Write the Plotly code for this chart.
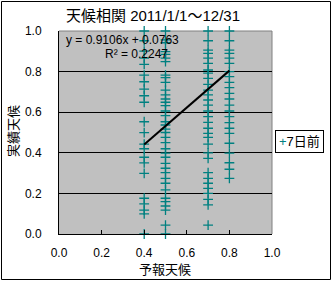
import plotly.graph_objects as go

# ---- data ----
x_col04 = 0.4
y_col04 = [1.0, 0.952, 0.901, 0.866, 0.836, 0.783, 0.750, 0.714, 0.681, 0.649,
           0.553, 0.499, 0.443, 0.420, 0.378, 0.350, 0.299, 0.176, 0.148, 0.118,
           0.099, 0.0]
x_col05 = 0.5
y_col05 = [1.0, 0.956, 0.942, 0.898, 0.885, 0.866, 0.849, 0.783, 0.770, 0.747,
           0.709, 0.685, 0.665, 0.649, 0.632, 0.606, 0.583, 0.553, 0.537, 0.517,
           0.500, 0.476, 0.450, 0.420, 0.398, 0.378, 0.348, 0.324, 0.302, 0.274,
           0.250, 0.217, 0.176, 0.159, 0.138, 0.118, 0.044, 0.0]
x_col07 = 0.7
y_col07 = [1.0, 0.952, 0.906, 0.890, 0.866, 0.841, 0.808, 0.792, 0.767, 0.737,
           0.709, 0.685, 0.660, 0.635, 0.606, 0.578, 0.550, 0.521, 0.496, 0.476,
           0.443, 0.400, 0.373, 0.302, 0.274, 0.250, 0.225, 0.200, 0.171, 0.143,
           0.044]
x_col08 = 0.8
y_col08 = [1.0, 0.952, 0.906, 0.890, 0.866, 0.841, 0.800, 0.775, 0.747, 0.721,
           0.693, 0.665, 0.635, 0.606, 0.578, 0.549, 0.521, 0.496, 0.447, 0.398,
           0.351, 0.319, 0.274]

slope = 0.9106
intercept = 0.0763
r2 = 0.2247

series_name = "7日前"
title_text = "天候相関 2011/1/1～12/31"
x_title = "予報天候"
y_title = "実績天候"
tick_vals = [0.0, 0.2, 0.4, 0.6, 0.8, 1.0]
tick_text = ["0.0", "0.2", "0.4", "0.6", "0.8", "1.0"]

xs, ys = [], []
for xv, col in [(x_col04, y_col04), (x_col05, y_col05), (x_col07, y_col07), (x_col08, y_col08)]:
    xs += [xv] * len(col)
    ys += col

x_min, x_max = min(xs), max(xs)

FONT = "Liberation Sans, Arial, Noto Sans CJK JP, sans-serif"
TEAL = "#008080"

fig = go.Figure()
fig.add_trace(go.Scatter(
    x=xs, y=ys, mode="markers", name=series_name, showlegend=False,
    cliponaxis=False,
    marker=dict(symbol="cross-thin-open", size=7, color=TEAL,
                line=dict(color=TEAL, width=1.3)),
))
fig.add_trace(go.Scatter(
    x=[x_min, x_max], y=[slope * x_min + intercept, slope * x_max + intercept],
    mode="lines", line=dict(color="black", width=2), showlegend=False,
    hoverinfo="skip",
))

L, R, T, B = 59, 61, 31, 47
W, H = 333, 281
pw, ph = W - L - R, H - T - B


def px_x(p):
    return (p - L) / pw


def px_y(p):
    return (H - B - p) / ph


fig.update_layout(
    width=W, height=H,
    margin=dict(l=L, r=R, t=T, b=B, pad=0, autoexpand=False),
    paper_bgcolor="white",
    plot_bgcolor="#C0C0C0",
    font=dict(family=FONT, size=12, color="black"),
    showlegend=False,
    xaxis=dict(
        range=[0, 1], tickvals=tick_vals, ticktext=tick_text,
        showgrid=False, zeroline=False,
        ticks="inside", ticklen=4, tickcolor="black",
        showline=True, linecolor="black", linewidth=1,
        mirror=False, ticklabelstandoff=8,
        tickfont=dict(size=12, family=FONT),
    ),
    yaxis=dict(
        range=[0, 1], tickvals=tick_vals, ticktext=tick_text,
        showgrid=True, gridcolor="black", gridwidth=1,
        zeroline=False, ticks="",
        showline=True, linecolor="black", linewidth=1,
        ticklabelstandoff=14,
        tickfont=dict(size=12, family=FONT),
    ),
    shapes=[
        dict(type="line", xref="paper", yref="paper", x0=0, x1=1, y0=1, y1=1,
             line=dict(color="#808080", width=1), layer="below"),
        dict(type="line", xref="paper", yref="paper", x0=1, x1=1, y0=0, y1=1,
             line=dict(color="#808080", width=1), layer="below"),
        dict(type="rect", xref="paper", yref="paper",
             x0=px_x(1.5), x1=px_x(330.5), y0=px_y(279.5), y1=px_y(1.5),
             line=dict(color="black", width=1)),
    ],
    annotations=[
        dict(text=title_text, xref="paper", yref="paper", x=px_x(153), y=px_y(15),
             xanchor="center", yanchor="middle", showarrow=False,
             font=dict(size=15, family=FONT)),
        dict(text=x_title, xref="paper", yref="paper", x=px_x(165), y=px_y(269),
             xanchor="center", yanchor="middle", showarrow=False,
             font=dict(size=13, family=FONT)),
        dict(text=y_title, xref="paper", yref="paper", x=px_x(13), y=px_y(131),
             xanchor="center", yanchor="middle", showarrow=False, textangle=-90,
             font=dict(size=13, family=FONT)),
        dict(text=f"y = {slope}x + {intercept}", xref="paper", yref="paper",
             x=px_x(64), y=px_y(40), xanchor="left", yanchor="middle", showarrow=False,
             font=dict(size=12, family=FONT)),
        dict(text=f"R² = {r2}", xref="paper", yref="paper",
             x=px_x(103), y=px_y(54), xanchor="left", yanchor="middle", showarrow=False,
             font=dict(size=12, family=FONT)),
        # legend box
        dict(text=f"<span style='color:{TEAL}'>+</span>{series_name}",
             xref="paper", yref="paper", x=px_x(275), y=px_y(141.5),
             xanchor="left", yanchor="middle", showarrow=False,
             bgcolor="white", bordercolor="black", borderwidth=1, borderpad=3,
             font=dict(size=13, family=FONT)),
    ],
)

fig.write_html("out.html")
